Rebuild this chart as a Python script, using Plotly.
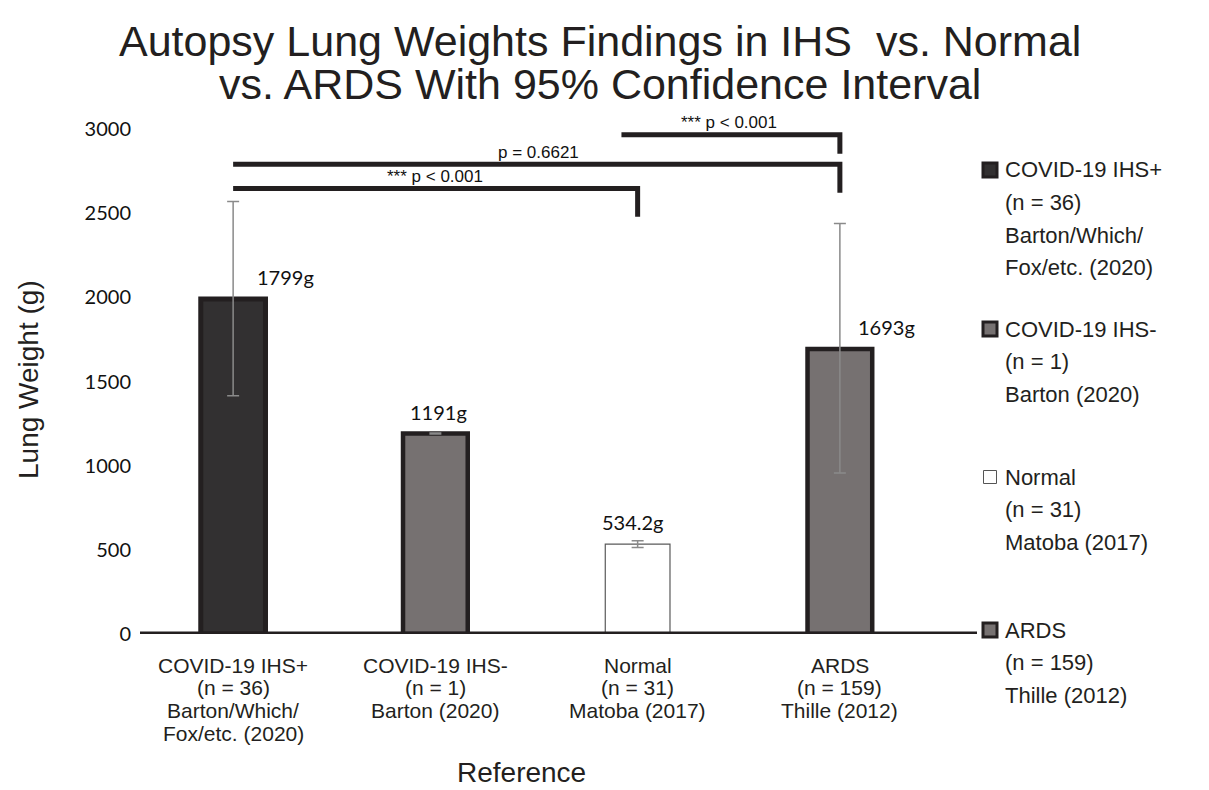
import plotly.graph_objects as go

# ---------------- data ----------------
categories = [
    "COVID-19 IHS+<br>(n = 36)<br>Barton/Which/<br>Fox/etc. (2020)",
    "COVID-19 IHS-<br>(n = 1)<br>Barton (2020)",
    "Normal<br>(n = 31)<br>Matoba (2017)",
    "ARDS<br>(n = 159)<br>Thille (2012)",
]
bar_values = [1990, 1191, 534.2, 1693]
value_labels = ["1799g", "1191g", "534.2g", "1693g"]
err_plus = [580, 3, 20, 745]
err_minus = [575, 3, 20, 736]
y_ticks = [0, 500, 1000, 1500, 2000, 2500, 3000]

legend_lines = [
    ["COVID-19 IHS+", "(n = 36)", "Barton/Which/", "Fox/etc. (2020)"],
    ["COVID-19 IHS-", "(n = 1)", "Barton (2020)"],
    ["Normal", "(n = 31)", "Matoba (2017)"],
    ["ARDS", "(n = 159)", "Thille (2012)"],
]

# comparisons: start x, end x, bracket level, drop level, label, label x
comp_start = [0, 0, 1.92]
comp_end = [2, 3, 3]
comp_level = [2646, 2791, 2966]
comp_drop = [2479, 2622, 2853]
comp_text = ["*** p < 0.001", "p = 0.6621", "*** p < 0.001"]
comp_text_x = [1.0, 1.51, 2.45]

# ---------------- styles ----------------
DARK = "#231f20"
fill_colors = ["#323031", "#767171", "#ffffff", "#767171"]
line_colors = [DARK, DARK, "#5a5a5a", DARK]
line_widths = [5, 4.5, 1.2, 4.5]
ARIAL = "Liberation Sans, Arial, sans-serif"
CAL = "Lato, Carlito, sans-serif"

OFF = 8  # page body margin of the html page
W, H = 1209 - OFF, 790 - OFF
L, R, T, B = 132 - OFF, 268, 129 - OFF, 156
PW, PH = W - L - R, H - T - B


def px(xp):
    # reference pixel x -> paper
    return (xp - OFF - L) / PW


def py(yp):
    # reference pixel y -> paper
    return (H - B - (yp - OFF)) / PH


fig = go.Figure()
fig.add_trace(go.Bar(
    x=list(range(len(categories))),
    y=bar_values,
    width=0.32,
    marker=dict(color=fill_colors, line=dict(color=line_colors, width=line_widths)),
    error_y=dict(type="data", array=err_plus, arrayminus=err_minus,
                 color="#8a8a8a", thickness=1.5, width=6),
    showlegend=False,
    hoverinfo="skip",
))

annotations = []
shapes = []

# value labels
label_dx = [52, 3, -5, 47]
for i, (v, t) in enumerate(zip(bar_values, value_labels)):
    annotations.append(dict(x=i, y=v, text=t, showarrow=False, xshift=label_dx[i], yshift=22,
                            font=dict(family=CAL, size=20, color="#111111")))

# category labels (one text per line, tighter line spacing than tick labels allow)
for i, cat in enumerate(categories):
    for j, part in enumerate(cat.split("<br>")):
        annotations.append(dict(x=i, xref="x", yref="paper", y=py(665 + j * 22.8),
                                xanchor="center", yanchor="middle", text=part, showarrow=False,
                                font=dict(family=ARIAL, size=21, color=DARK)))

# x axis baseline
shapes.append(dict(type="line", xref="paper", yref="y", x0=px(140), x1=px(977), y0=0, y1=0,
                   line=dict(color=DARK, width=5), layer="above"))

# comparison brackets
for s, e, lv, dp, t, tx in zip(comp_start, comp_end, comp_level, comp_drop, comp_text, comp_text_x):
    shapes.append(dict(type="path", xref="x", yref="y",
                       path=f"M {s} {lv} L {e} {lv} L {e} {dp}",
                       line=dict(color=DARK, width=5)))
    annotations.append(dict(x=tx, y=lv, text=t, showarrow=False, yshift=12,
                            font=dict(family=ARIAL, size=17, color="#111111")))

# custom legend
item_y = [170, 329, 477, 630]
line_gap = 32.5
sq_style = [
    dict(fill="#323031", line=DARK, w=3, half=7),
    dict(fill="#767171", line=DARK, w=3, half=7),
    dict(fill="#ffffff", line="#555555", w=1, half=6.5),
    dict(fill="#767171", line=DARK, w=3, half=7),
]
for k, lines in enumerate(legend_lines):
    cy = item_y[k]
    st = sq_style[k]
    cx = 990
    shapes.append(dict(type="rect", xref="paper", yref="paper",
                       x0=px(cx - st["half"]), x1=px(cx + st["half"]),
                       y0=py(cy + st["half"]), y1=py(cy - st["half"]),
                       fillcolor=st["fill"], line=dict(color=st["line"], width=st["w"])))
    for j, txt in enumerate(lines):
        annotations.append(dict(xref="paper", yref="paper", x=px(1003), y=py(cy + j * line_gap),
                                xanchor="left", yanchor="middle", text=txt, showarrow=False,
                                font=dict(family=ARIAL, size=22, color=DARK)))

# titles
annotations.append(dict(xref="paper", yref="paper", x=px(600), y=py(41), xanchor="center", yanchor="middle",
                        text="Autopsy Lung Weights Findings in IHS  vs. Normal", showarrow=False,
                        font=dict(family=ARIAL, size=43, color=DARK)))
annotations.append(dict(xref="paper", yref="paper", x=px(600), y=py(84), xanchor="center", yanchor="middle",
                        text="vs. ARDS With 95% Confidence Interval", showarrow=False,
                        font=dict(family=ARIAL, size=43, color=DARK)))
annotations.append(dict(xref="paper", yref="paper", x=px(28), y=py(380), xanchor="center", yanchor="middle",
                        text="Lung Weight (g)", textangle=-90, showarrow=False,
                        font=dict(family=ARIAL, size=28, color=DARK)))
annotations.append(dict(xref="paper", yref="paper", x=px(521), y=py(772), xanchor="center", yanchor="middle",
                        text="Reference", showarrow=False,
                        font=dict(family=ARIAL, size=28, color=DARK)))

fig.update_layout(
    width=W, height=H,
    margin=dict(l=L, r=R, t=T, b=B, autoexpand=False),
    paper_bgcolor="white", plot_bgcolor="white",
    shapes=shapes, annotations=annotations,
    xaxis=dict(range=[-0.5, 3.5], tickvals=list(range(len(categories))), showticklabels=False,
               showgrid=False, zeroline=False, showline=False, ticks=""),
    yaxis=dict(range=[0, 3000], tickvals=y_ticks, showgrid=False, zeroline=False, showline=False,
               ticks="", tickfont=dict(family=CAL, size=20, color="#111111")),
    bargap=0.68,
)

fig.write_html("out.html")
